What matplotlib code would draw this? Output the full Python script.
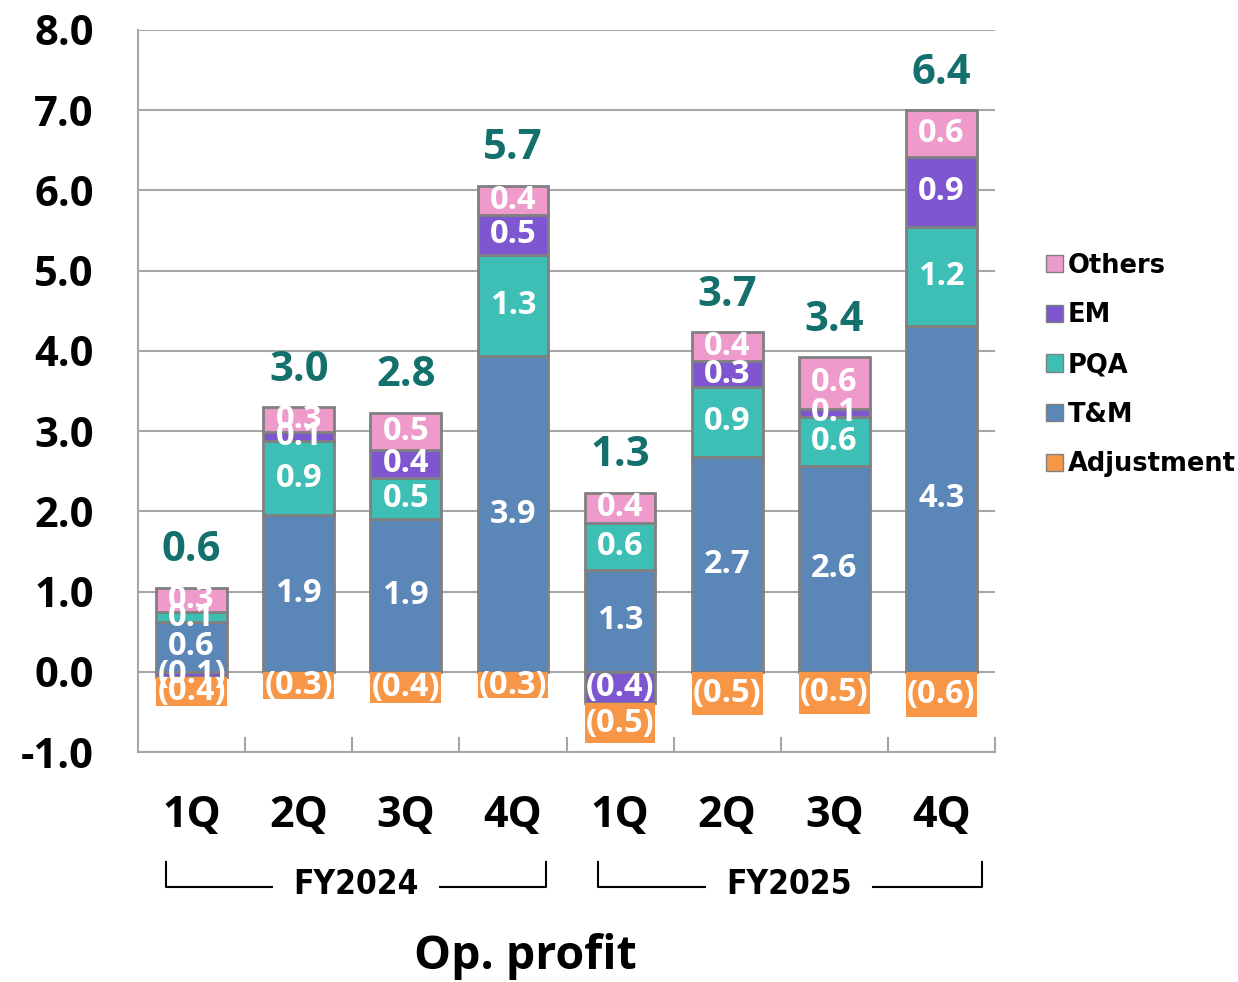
import numpy as np
import matplotlib
matplotlib.use("Agg")
import matplotlib.pyplot as plt
from matplotlib.patches import Patch
from matplotlib.lines import Line2D

# data (units shown on y axis)
quarters = ["1Q", "2Q", "3Q", "4Q", "1Q", "2Q", "3Q", "4Q"]
years = ["FY2024", "FY2025"]
tm = [0.62, 1.95, 1.91, 3.93, 1.27, 2.68, 2.57, 4.31]
pqa = [0.12, 0.93, 0.50, 1.27, 0.59, 0.87, 0.61, 1.24]
em = [-0.06, 0.11, 0.36, 0.49, -0.39, 0.32, 0.10, 0.87]
others = [0.31, 0.31, 0.46, 0.37, 0.37, 0.36, 0.64, 0.58]
adj = [-0.37, -0.34, -0.39, -0.33, -0.50, -0.54, -0.52, -0.56]

colors = {
    "T&M": "#5B86B8",
    "PQA": "#3DBFB5",
    "EM": "#7E57D0",
    "Others": "#EE9BCB",
    "Adjustment": "#F79646",
}
edge = "#808080"
teal = "#13706C"
num_font = "Open Sans"

fig = plt.figure(figsize=(12.38, 9.82), dpi=100)
ax = fig.add_axes([0.1115, 0.2342, 0.6922, 0.7353])

x = np.arange(len(quarters))
w = 0.66


def fmt(v):
    s = f"{abs(v):.1f}"
    return f"({s})" if v < 0 else s


pos_base = np.zeros(len(x))
neg_base = np.zeros(len(x))
series = [("T&M", tm), ("PQA", pqa), ("EM", em), ("Others", others), ("Adjustment", adj)]
for name, vals in series:
    vals = np.array(vals)
    for i, v in enumerate(vals):
        if v >= 0:
            b = pos_base[i]
            pos_base[i] += v
        else:
            b = neg_base[i]
            neg_base[i] += v
        ec = "none" if name == "Adjustment" else edge
        ax.bar(x[i], v, w, bottom=b, color=colors[name], edgecolor=ec,
               linewidth=2, zorder=3)
        ax.text(x[i], b + v / 2, fmt(v), ha="center", va="center",
                color="white", fontsize=23.5, fontweight="bold",
                family=num_font, zorder=5)

totals = np.array(tm) + np.array(pqa) + np.array(em) + np.array(others) + np.array(adj)
for i, t in enumerate(totals):
    ax.text(x[i], pos_base[i] + 0.33, f"{t:.1f}", ha="center", va="baseline",
            color=teal, fontsize=30, fontweight="bold", family=num_font, zorder=5)

ax.set_xlim(-0.5, len(x) - 0.5)
ax.set_ylim(-1.0, 8.0)
ax.set_yticks(np.arange(-1, 9, 1))
ax.set_yticklabels([f"{v:.1f}" for v in np.arange(-1, 9, 1)],
                   fontsize=30, fontweight="bold", family=num_font)
ax.tick_params(axis="y", length=0, pad=32)
ax.set_xticks([])
ax.yaxis.grid(True, color="#A6A6A6", linewidth=1.5, zorder=0)
ax.set_axisbelow(True)
for s in ["top", "right"]:
    ax.spines[s].set_visible(False)
for s in ["left", "bottom"]:
    ax.spines[s].set_color("#A6A6A6")
    ax.spines[s].set_linewidth(1.5)

# category separator ticks on bottom axis
for b in np.arange(0.5, len(x), 1.0):
    ax.plot([b, b], [-1.0, -0.83], color="#A6A6A6", lw=1.5, zorder=2, clip_on=False)

trans = ax.get_xaxis_transform()
for i, q in enumerate(quarters):
    ax.text(x[i], -0.088, q, transform=trans, ha="center", va="center",
            fontsize=31, fontweight="bold", family=num_font)

# fiscal year brackets (figure pixel coords)
def px(xp, yp):
    return xp / 1238, 1 - yp / 982

brackets = [(166, 546, 272, 440), (598, 982, 705, 873)]
for (x0, x1, g0, g1), yr in zip(brackets, years):
    for seg in [[(x0, 862), (x0, 887), (g0, 887)], [(g1, 887), (x1, 887), (x1, 862)]]:
        xs, ys = zip(*[px(a, b) for a, b in seg])
        fig.add_artist(Line2D(xs, ys, color="black", lw=1.5))
    cx, cy = px((g0 + g1) / 2, 885)
    fig.text(cx, cy, yr, ha="center", va="center", fontsize=24,
             fontweight="bold", fontstretch="condensed", family="DejaVu Sans")

cx, cy = px(525, 957)
fig.text(cx, cy, "Op. profit", ha="center", va="center", fontsize=33.5,
         fontweight="bold", family=num_font)

handles = [Patch(facecolor=colors[n], edgecolor=edge, linewidth=1)
           for n in ["Others", "EM", "PQA", "T&M", "Adjustment"]]
fig.legend(handles, ["Others", "EM", "PQA", "T&M", "Adjustment"],
           loc="center left", bbox_to_anchor=(1036 / 1238, 1 - 365 / 982),
           frameon=False, prop={"family": "DejaVu Sans", "weight": "bold", "size": 18.5},
           handlelength=0.65, handleheight=0.65, handletextpad=0.2, labelspacing=0.92,
           borderaxespad=0)

fig.savefig("out.png", dpi=100)
